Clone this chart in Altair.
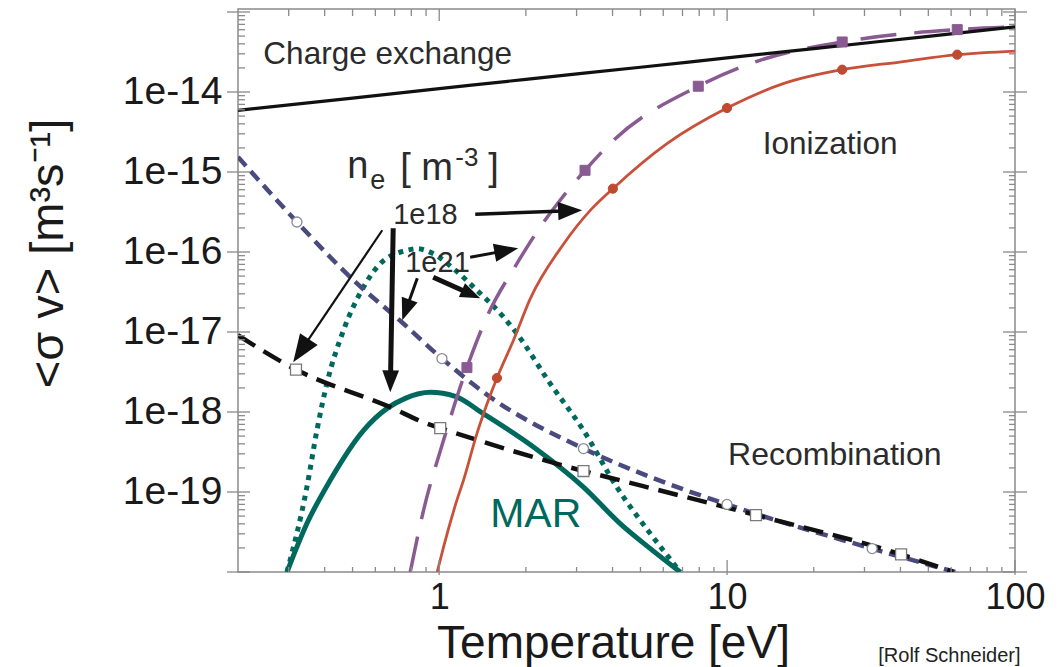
import math
import altair as alt
import pandas as pd

# ---------------- values ----------------
# Charge exchange (black solid)
cx_T = [0.2, 0.5, 1, 2, 5, 10, 20, 50, 100]
cx_sv = [5.9e-15, 8.4e-15, 1.10e-14, 1.44e-14, 2.04e-14, 2.67e-14, 3.49e-14, 4.97e-14, 6.5e-14]

# Ionization, n_e = 1e18 (red solid, filled circles)
ion18_T = [0.984, 1.035, 1.152, 1.214, 1.352, 1.425, 1.587, 1.811, 2.07, 2.70, 3.39, 4.01,
           6.18, 9.99, 15.67, 25.1, 39.8, 63.0, 100]
ion18_sv = [1e-20, 2.05e-20, 7.9e-20, 1.40e-19, 5.37e-19, 9.5e-19, 2.66e-18, 7.9e-18, 2.6e-17,
            1.25e-16, 3.48e-16, 6.19e-16, 2.26e-15, 6.3e-15, 1.27e-14, 1.9e-14, 2.37e-14,
            2.93e-14, 3.25e-14]
ion18_mT = [1.587, 4.01, 9.99, 25.1, 63.0]
ion18_msv = [2.66e-18, 6.19e-16, 6.3e-15, 1.9e-14, 2.93e-14]

# Ionization, n_e = 1e21 (purple long dash, filled squares)
ion21_T = [0.793, 0.882, 1.035, 1.248, 1.464, 1.861, 2.243, 2.63, 3.21, 4.03, 7.94, 13.0,
           25.1, 63.0, 100]
ion21_sv = [1e-20, 5.9e-20, 4.43e-19, 3.59e-18, 1.54e-17, 7.16e-17, 2.05e-16, 4.43e-16,
            1.05e-15, 2.49e-15, 1.18e-14, 2.49e-14, 4.22e-14, 6.02e-14, 6.5e-14]
ion21_mT = [1.248, 3.21, 7.94, 25.1, 63.0]
ion21_msv = [3.59e-18, 1.05e-15, 1.18e-14, 4.22e-14, 6.02e-14]

# Recombination, n_e = 1e18 (blue short dash, open circles)
rec18_T = [0.2, 0.3205, 0.504, 0.752, 1.022, 1.503, 3.17, 5.41, 9.99, 31.9, 62]
rec18_sv = [1.54e-15, 2.37e-16, 4.43e-17, 1.27e-17, 4.65e-18, 1.54e-18, 3.49e-19, 1.54e-19,
            7.0e-20, 1.96e-20, 1e-20]
rec18_mT = [0.3205, 1.022, 3.17, 9.99, 31.9]
rec18_msv = [2.37e-16, 4.65e-18, 3.49e-19, 7.0e-20, 1.96e-20]

# Recombination, n_e = 1e21 (black dash, open squares)
rec21_T = [0.2, 0.318, 0.676, 0.906, 1.008, 3.17, 4.25, 12.6, 40.2, 61]
rec21_sv = [9.1e-18, 3.39e-18, 1.15e-18, 7.16e-19, 6.3e-19, 1.83e-19, 1.40e-19, 5.13e-20,
            1.66e-20, 1e-20]
rec21_mT = [0.318, 1.008, 3.17, 12.6, 40.2]
rec21_msv = [3.39e-18, 6.3e-19, 1.83e-19, 5.13e-20, 1.66e-20]

# MAR, n_e = 1e18 (teal solid)
mar18_T = [0.296, 0.347, 0.418, 0.546, 0.659, 0.762, 0.93, 1.137, 1.425, 2.125, 3.17, 4.25,
           5.41, 6.87]
mar18_sv = [1e-20, 4.03e-20, 1.40e-19, 5.9e-19, 1.11e-18, 1.48e-18, 1.76e-18, 1.57e-18,
            9.5e-19, 3.65e-19, 1.15e-19, 4.03e-20, 1.96e-20, 1e-20]

# MAR, n_e = 1e21 (teal dotted)
mar21_T = [0.296, 0.347, 0.376, 0.407, 0.465, 0.546, 0.624, 0.772, 0.837, 0.955, 1.121, 1.352,
           1.672, 1.861, 2.43, 3.17, 4.14, 5.41, 6.0, 6.87]
mar21_sv = [1e-20, 1.15e-19, 5.9e-19, 2.26e-18, 1.05e-17, 3.65e-17, 7.16e-17, 1.05e-16,
            1.1e-16, 9.5e-17, 6.2e-17, 3.32e-17, 1.54e-17, 9.55e-18, 2.26e-18, 5.9e-19,
            1.15e-19, 3.02e-20, 1.87e-20, 1e-20]

# axis ticks
x_major = [1, 10, 100]
x_minor = [0.3, 0.4, 0.5, 0.6, 0.7, 0.8, 0.9, 2, 3, 4, 5, 6, 7, 8, 9,
           20, 30, 40, 50, 60, 70, 80, 90]
y_major = [1e-20, 1e-19, 1e-18, 1e-17, 1e-16, 1e-15, 1e-14, 1e-13]
y_labels = [1e-19, 1e-18, 1e-17, 1e-16, 1e-15, 1e-14]
y_minor = [k * 10.0 ** e for e in range(-20, -13) for k in range(2, 10)]

# annotations (anchor in data units)
txt_T = [0.245, 13.3, 10.08, 0.692, 0.762]
txt_sv = [2.88e-14, 2.16e-15, 2.88e-19, 2.88e-16, 7.22e-17]
txt_text = ["Charge exchange", "Ionization", "Recombination", "1e18", "1e21"]
txt_fs = [31.5, 31.5, 32, 29, 29]

ne_T = [0.479, 0.576, 0.732, 1.137, 1.479]
ne_sv = [8.34e-16, 6.08e-16, 7.87e-16, 1.18e-15, 7.87e-16]
ne_text = ["n", "e", "[ m", "-3", "]"]
ne_fs = [38, 27, 38, 26, 38]

mar_label_T, mar_label_sv = 1.503, 5.12e-20
credit_T, credit_sv = 33.5, 7.4e-22

# arrows: tail -> tip
arr_tail_T = [1.334, 0.634, 0.692, 1.281, 0.839, 0.953]
arr_tail_sv = [2.96e-16, 1.87e-16, 1.98e-16, 8.59e-17, 4.69e-17, 4.83e-17]
arr_tip_T = [3.136, 0.311, 0.676, 1.880, 0.744, 1.388]
arr_tip_sv = [3.32e-16, 4.18e-18, 1.76e-18, 1.11e-16, 1.40e-17, 2.64e-17]
arr_width = [3.5, 2.2, 5, 3, 3, 5]
arr_head = [24, 28, 22, 24, 22, 20]

# ---------------- styling ----------------
W, H = 777, 563
XDOM = [0.2, 100]
YDOM = [1e-20, 1.09e-13]
PXX = W / math.log10(XDOM[1] / XDOM[0])
PXY = H / math.log10(YDOM[1] / YDOM[0])
FONT = "Liberation Sans"
FRAME = "#8a8a8a"
TEXTC = "#2b2b2b"
TEAL = "#00695e"
RED = "#c9503a"
PURPLE = "#8a5a92"
BLUE = "#4a4a7e"
BLACK = "#111111"

xs = alt.Scale(type="log", domain=XDOM)
ys = alt.Scale(type="log", domain=YDOM)

x_axis = alt.Axis(values=x_major, format="d", labelFontSize=36, labelFont=FONT,
                  labelColor="#1a1a1a", labelPadding=8, ticks=False, tickSize=0,
                  domain=False, grid=False, labelFlush=False,
                  title="Temperature [eV]", titleFont=FONT, titleFontSize=46,
                  titleFontWeight="normal", titleColor="#1a1a1a",
                  titleX=375, titleY=85, titleAlign="center",
                  titleBaseline="alphabetic")
y_axis = alt.Axis(values=y_labels, labelExpr="'1e' + round(log(datum.value)/LN10)",
                  labelFontSize=39, labelFont=FONT, labelColor="#1a1a1a",
                  labelPadding=16, ticks=False, tickSize=0, domain=False, grid=False,
                  labelFlush=False,
                  title="<σ v> [m³s⁻¹]", titleFont=FONT, titleFontSize=47,
                  titleFontWeight="normal", titleColor="#1a1a1a",
                  titleX=-190, titleY=244, titleAngle=270, titleAlign="center",
                  titleBaseline="middle")


def xy(xf="T", yf="sv"):
    return dict(x=alt.X(f"{xf}:Q", scale=xs, axis=x_axis),
                y=alt.Y(f"{yf}:Q", scale=ys, axis=y_axis))


def line(Ts, svs, color, width, dash=None):
    df = pd.DataFrame({"T": Ts, "sv": svs})
    kw = dict(color=color, strokeWidth=width, interpolate="monotone", clip=True,
              strokeCap="butt")
    if dash:
        kw["strokeDash"] = dash
    return alt.Chart(df).mark_line(**kw).encode(**xy())


layers = []

# curves
layers.append(line(mar21_T, mar21_sv, TEAL, 5, [5, 5.5]))
layers.append(line(mar18_T, mar18_sv, TEAL, 5))
layers.append(line(rec18_T, rec18_sv, BLUE, 4.5, [12, 7]))
layers.append(line(rec21_T, rec21_sv, BLACK, 4.5, [20, 10]))
layers.append(line(ion21_T, ion21_sv, PURPLE, 3.5, [36, 18]))
layers.append(line(ion18_T, ion18_sv, RED, 2.8))
layers.append(line(cx_T, cx_sv, BLACK, 3.2))

# markers


def markers(Ts, svs, shape, size, fill, stroke, sw):
    df = pd.DataFrame({"T": Ts, "sv": svs})
    return alt.Chart(df).mark_point(shape=shape, size=size, filled=True, fill=fill,
                                    stroke=stroke, strokeWidth=sw, opacity=1).encode(**xy())


layers.append(markers(rec18_mT, rec18_msv, "circle", 100, "white", "#8a8a9a", 1.3))
layers.append(markers(rec21_mT, rec21_msv, "square", 120, "white", "#7a7a7a", 1.3))
layers.append(markers(ion21_mT, ion21_msv, "square", 100, PURPLE, PURPLE, 1))
layers.append(markers(ion18_mT, ion18_msv, "circle", 85, "#c04a30", "#c04a30", 1))

# axis ticks (drawn as rules on the frame)


def tick_layer(vals, orient, a, b, width=1.3):
    df = pd.DataFrame({"T": vals, "sv": vals})
    if orient == "x":
        enc = dict(x=alt.X("T:Q", scale=xs, axis=x_axis), y=alt.value(a), y2=alt.value(b))
    else:
        enc = dict(y=alt.Y("sv:Q", scale=ys, axis=y_axis), x=alt.value(a), x2=alt.value(b))
    return alt.Chart(df).mark_rule(color=FRAME, strokeWidth=width).encode(**enc)


layers.append(tick_layer(x_minor, "x", H, H - 5))
layers.append(tick_layer(x_major, "x", H + 3, H - 12))
layers.append(tick_layer(x_minor, "x", 0, 7))
layers.append(tick_layer(x_major, "x", 0, 12))
layers.append(tick_layer(y_minor, "y", 0, 7))
layers.append(tick_layer(y_major, "y", -11, 12))
layers.append(tick_layer(y_minor, "y", W - 6, W))
layers.append(tick_layer(y_major, "y", W - 12, W + 12))

# arrows
HEAD = "M0,0L0.38,1L-0.38,1Z"
for i in range(len(arr_tail_T)):
    lt0, ls0 = math.log10(arr_tail_T[i]), math.log10(arr_tail_sv[i])
    lt1, ls1 = math.log10(arr_tip_T[i]), math.log10(arr_tip_sv[i])
    dx = (lt1 - lt0) * PXX
    dy = -(ls1 - ls0) * PXY
    L = math.hypot(dx, dy)
    ux, uy = dx / L, dy / L
    back = arr_head[i] * 0.8
    bt = 10 ** (lt1 - back * ux / PXX)
    bs = 10 ** (ls1 + back * uy / PXY)
    ang = math.degrees(math.atan2(dx, -dy)) % 360
    seg = pd.DataFrame({"T": [arr_tail_T[i], bt], "sv": [arr_tail_sv[i], bs]})
    layers.append(alt.Chart(seg).mark_line(color=BLACK, strokeWidth=arr_width[i],
                                           strokeCap="butt").encode(**xy()))
    tip = pd.DataFrame({"T": [arr_tip_T[i]], "sv": [arr_tip_sv[i]]})
    layers.append(alt.Chart(tip).mark_point(shape=HEAD, filled=True, color=BLACK,
                                            opacity=1, size=(2 * arr_head[i]) ** 2,
                                            angle=ang, strokeWidth=0).encode(**xy()))

# texts
tdf = pd.DataFrame({"T": txt_T, "sv": txt_sv, "text": txt_text, "fs": txt_fs})
layers.append(alt.Chart(tdf).mark_text(align="left", baseline="middle", font=FONT,
                                       color=TEXTC).encode(
    **xy(), text="text:N", size=alt.Size("fs:Q", scale=None)))

ndf = pd.DataFrame({"T": ne_T, "sv": ne_sv, "text": ne_text, "fs": ne_fs})
layers.append(alt.Chart(ndf).mark_text(align="left", baseline="alphabetic", font=FONT,
                                       color=TEXTC).encode(
    **xy(), text="text:N", size=alt.Size("fs:Q", scale=None)))

mdf = pd.DataFrame({"T": [mar_label_T], "sv": [mar_label_sv], "text": ["MAR"]})
layers.append(alt.Chart(mdf).mark_text(align="left", baseline="middle", font=FONT,
                                       color=TEAL, fontSize=41).encode(
    **xy(), text="text:N"))

cdf = pd.DataFrame({"T": [credit_T], "sv": [credit_sv], "text": ["[Rolf Schneider]"]})
layers.append(alt.Chart(cdf).mark_text(align="left", baseline="alphabetic", font=FONT,
                                       color="#222222", fontSize=20).encode(
    **xy(), text="text:N"))

chart = alt.layer(*layers).properties(
    width=W, height=H,
    padding={"left": 238, "top": 9, "right": 46, "bottom": 95},
    autosize=alt.AutoSizeParams(type="none"),
    background="white",
).configure_view(stroke=FRAME, strokeWidth=1.5)

chart.save("out.html", embed_options={"renderer": "svg", "actions": False})
